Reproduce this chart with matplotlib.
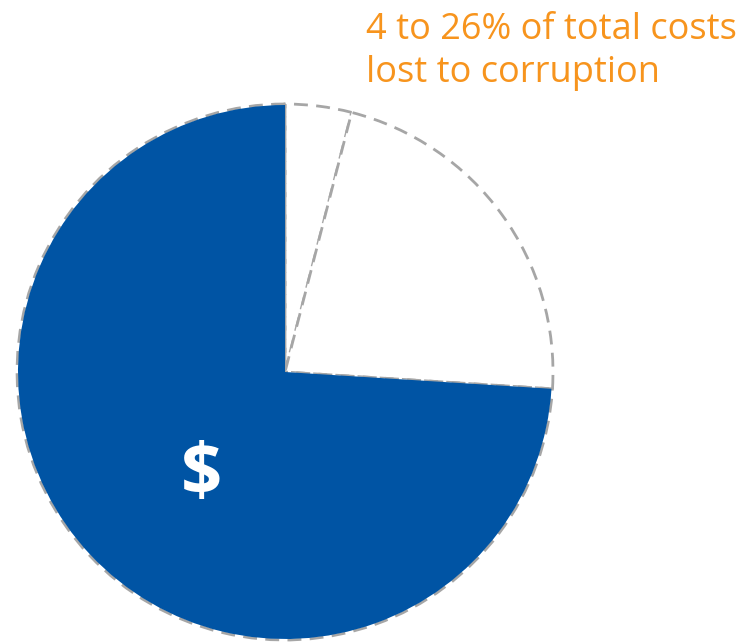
import matplotlib.pyplot as plt

# share of total project costs: lower bound of loss, extra up to upper bound, remainder
labels = ["low estimate", "high estimate", "remaining costs"]
shares = [4, 22, 74]

blue = "#0054A4"
orange = "#F7941D"
grey = "#A6A6A6"

fig = plt.figure(figsize=(7.41, 6.42), dpi=100)
ax = fig.add_axes([0, 0, 1, 1])

centre = (285, 270)
radius = 268

# dashed outline for every wedge
ax.pie(shares, colors=["white"] * 3, startangle=90, counterclock=False,
       center=centre, radius=radius, frame=True,
       wedgeprops=dict(edgecolor=grey, linewidth=2, linestyle=(0, (5, 3))))
# solid fill on the part that is not lost
ax.pie(shares, colors=["none", "none", blue], startangle=90, counterclock=False,
       center=centre, radius=radius - 1, frame=True,
       wedgeprops=dict(edgecolor="none", linewidth=0))
ax.set_xlim(0, 741)
ax.set_ylim(0, 642)
ax.set_aspect("equal")
ax.axis("off")

ax.text(201, 166, "$", color="white", fontsize=52, fontweight="bold",
        ha="center", va="center", family="Open Sans")

ax.text(366, 642 - 12, "4 to 26% of total costs\nlost to corruption",
        color=orange, fontsize=26, ha="left", va="top",
        family="Open Sans", linespacing=1.27)

fig.savefig("out.png", dpi=100)
